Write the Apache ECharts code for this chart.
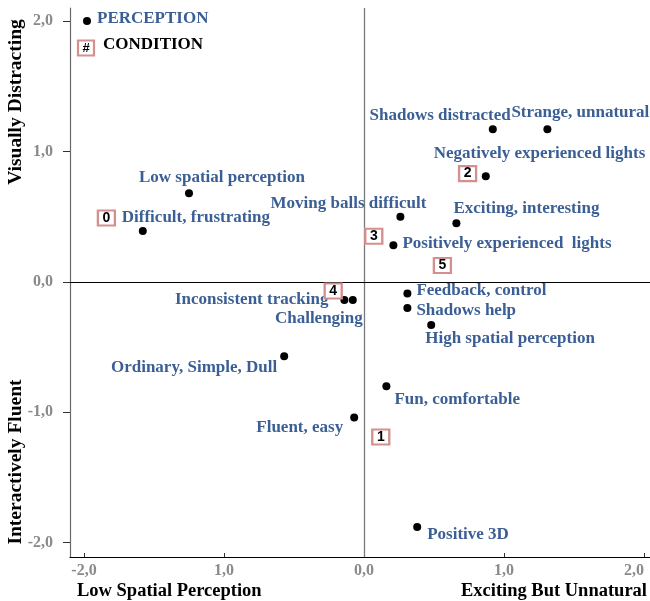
<!DOCTYPE html>
<html>
<head>
<meta charset="utf-8">
<script src="https://cdn.jsdelivr.net/npm/echarts@6/dist/echarts.min.js"></script>
<style>
  html, body { margin: 0; padding: 0; background: #ffffff; }
  #chart { width: 650px; height: 601px; }
</style>
</head>
<body>
<div id="chart"></div>
<script>
// ---------- DATA ----------
const perceptionNames = [
  'Shadows distracted', 'Strange, unnatural', 'Negatively experienced lights',
  'Moving balls difficult', 'Exciting, interesting', 'Positively experienced  lights',
  'Low spatial perception', 'Difficult, frustrating', 'Inconsistent tracking',
  'Challenging', 'Ordinary, Simple, Dull', 'Fluent, easy',
  'Feedback, control', 'Shadows help', 'High spatial perception',
  'Fun, comfortable', 'Positive 3D'
];
const perceptionX = [0.92, 1.31, 0.87, 0.26, 0.66, 0.21, -1.25, -1.58, -0.14, -0.08, -0.57, -0.07, 0.31, 0.31, 0.48, 0.16, 0.38];
const perceptionY = [1.17, 1.17, 0.81, 0.50, 0.45, 0.28, 0.68, 0.39, -0.14, -0.14, -0.57, -1.04, -0.09, -0.20, -0.33, -0.80, -1.88];

const conditionLabels = ['0', '1', '2', '3', '4', '5'];
const conditionX = [-1.84, 0.12, 0.74, 0.07, -0.22, 0.56];
const conditionY = [0.49, -1.19, 0.83, 0.35, -0.07, 0.125];

const xTickValues = [-2, -1, 0, 1, 2];
const xTickLabels = ['-2,0', '1,0', '0,0', '1,0', '2,0'];
const yTickValues = [-2, -1, 0, 1, 2];
const yTickLabels = ['-2,0', '-1,0', '0,0', '1,0', '2,0'];

const xAxisTitles = ['Low Spatial Perception', 'Exciting But Unnatural'];
const yAxisTitles = ['Visually Distracting', 'Interactively Fluent'];
const legendNames = ['PERCEPTION', 'CONDITION'];

// ---------- LABEL LAYOUT (align, dx, dy from the dot centre) ----------
const labelLayout = {
  'Shadows distracted': ['right', 18, -14],
  'Strange, unnatural': ['left', -36, -17],
  'Negatively experienced lights': ['left', -52, -23],
  'Moving balls difficult': ['right', 26, -13],
  'Exciting, interesting': ['left', -3, -15],
  'Positively experienced  lights': ['left', 9, -2],
  'Low spatial perception': ['left', -50, -16],
  'Difficult, frustrating': ['left', -21, -13],
  'Inconsistent tracking': ['right', -16, 0],
  'Challenging': ['right', 10, 19],
  'Ordinary, Simple, Dull': ['right', -7, 11],
  'Fluent, easy': ['right', -11, 10],
  'Feedback, control': ['left', 9, -3],
  'Shadows help': ['left', 9, 3],
  'High spatial perception': ['left', -6, 14],
  'Fun, comfortable': ['left', 8, 13],
  'Positive 3D': ['left', 10, 8]
};

const SERIF = '"Liberation Serif", "Times New Roman", serif';
const SANS = '"Liberation Sans", Arial, sans-serif';
const BLUE = '#3b5f95';
const GRAY_LABEL = '#8a8a8a';
const BOX_BORDER = '#d48f8f';
const DOT = 8;

function tickFormatter(values, labels) {
  return function (v) {
    const i = values.findIndex(t => Math.abs(t - v) < 1e-6);
    return i >= 0 ? labels[i] : '';
  };
}

const perceptionData = perceptionNames.map((n, i) => {
  const l = labelLayout[n] || ['left', 8, 0];
  return {
    name: n,
    value: [perceptionX[i], perceptionY[i]],
    label: { align: l[0], verticalAlign: 'middle', position: [DOT / 2 + l[1], DOT / 2 + l[2]] }
  };
});

const conditionData = conditionLabels.map((n, i) => ({
  name: n,
  value: [conditionX[i], conditionY[i]]
}));

const chart = echarts.init(document.getElementById('chart'), null, { renderer: 'canvas' });

const option = {
  animation: false,
  backgroundColor: '#ffffff',
  grid: { left: 70, right: 0, top: 8, bottom: 44, containLabel: false },
  xAxis: {
    type: 'value',
    min: -2.1,
    max: 2.043,
    splitLine: { show: false },
    axisLine: { show: true, onZero: false, lineStyle: { color: '#000', width: 1.2 } },
    axisTick: { show: true, inside: true, length: 4, customValues: xTickValues, lineStyle: { color: '#333' } },
    axisLabel: {
      show: true,
      customValues: xTickValues,
      formatter: tickFormatter(xTickValues, xTickLabels),
      color: GRAY_LABEL,
      fontFamily: SERIF,
      fontWeight: 'bold',
      fontSize: 16,
      margin: 6,
      alignMaxLabel: 'right'
    }
  },
  yAxis: {
    type: 'value',
    min: -2.11,
    max: 2.1,
    splitLine: { show: false },
    axisLine: { show: true, onZero: false, lineStyle: { color: '#6a6a6a', width: 1.2 } },
    axisTick: { show: true, inside: false, length: 7, customValues: yTickValues, lineStyle: { color: '#333' } },
    axisLabel: {
      show: true,
      customValues: yTickValues,
      formatter: tickFormatter(yTickValues, yTickLabels),
      color: GRAY_LABEL,
      fontFamily: SERIF,
      fontWeight: 'bold',
      fontSize: 16,
      margin: 17
    }
  },
  series: [
    {
      name: 'PERCEPTION',
      type: 'scatter',
      symbol: 'circle',
      symbolSize: DOT,
      itemStyle: { color: '#000', opacity: 1 },
      data: perceptionData,
      z: 5,
      label: {
        show: true,
        formatter: '{b}',
        color: BLUE,
        fontFamily: SERIF,
        fontWeight: 'bold',
        fontSize: 17
      },
      markLine: {
        silent: true,
        symbol: 'none',
        label: { show: false },
        z: 1,
        data: [
          { xAxis: 0, lineStyle: { color: '#7a7a7a', width: 1.3, type: 'solid' } },
          { yAxis: 0, lineStyle: { color: '#000', width: 1.1, type: 'solid' } }
        ]
      }
    },
    {
      name: 'CONDITION',
      type: 'scatter',
      symbol: 'rect',
      symbolSize: [17, 15],
      itemStyle: { color: '#ffffff', borderColor: BOX_BORDER, borderWidth: 2.2, opacity: 1 },
      data: conditionData,
      z: 6,
      label: {
        show: true,
        position: 'inside',
        formatter: '{b}',
        color: '#000',
        fontFamily: SANS,
        fontWeight: 'bold',
        fontSize: 14
      }
    }
  ],
  graphic: [
    // legend
    { type: 'circle', shape: { cx: 87, cy: 21, r: 4 }, style: { fill: '#000' } },
    { type: 'text', x: 97, y: 19, style: { text: legendNames[0], fill: BLUE, font: 'bold 17px ' + SERIF, textAlign: 'left', textVerticalAlign: 'middle' } },
    { type: 'rect', shape: { x: 78, y: 40.5, width: 16, height: 15 }, style: { fill: '#fff', stroke: BOX_BORDER, lineWidth: 2.2 } },
    { type: 'text', x: 86, y: 48.5, style: { text: '#', fill: '#000', font: 'bold 13px ' + SANS, textAlign: 'center', textVerticalAlign: 'middle' } },
    { type: 'text', x: 103, y: 45, style: { text: legendNames[1], fill: '#000', font: 'bold 17px ' + SERIF, textAlign: 'left', textVerticalAlign: 'middle' } },
    // axis titles
    { type: 'text', x: 77, y: 591, style: { text: xAxisTitles[0], fill: '#000', font: 'bold 18.5px ' + SERIF, textAlign: 'left', textVerticalAlign: 'middle' } },
    { type: 'text', x: 647, y: 591, style: { text: xAxisTitles[1], fill: '#000', font: 'bold 18.5px ' + SERIF, textAlign: 'right', textVerticalAlign: 'middle' } },
    { type: 'text', x: 16, y: 102, rotation: Math.PI / 2, style: { text: yAxisTitles[0], fill: '#000', font: 'bold 19.5px ' + SERIF, textAlign: 'center', textVerticalAlign: 'middle' } },
    { type: 'text', x: 16, y: 462, rotation: Math.PI / 2, style: { text: yAxisTitles[1], fill: '#000', font: 'bold 19.5px ' + SERIF, textAlign: 'center', textVerticalAlign: 'middle' } }
  ]
};

chart.setOption(option);
</script>
</body>
</html>
